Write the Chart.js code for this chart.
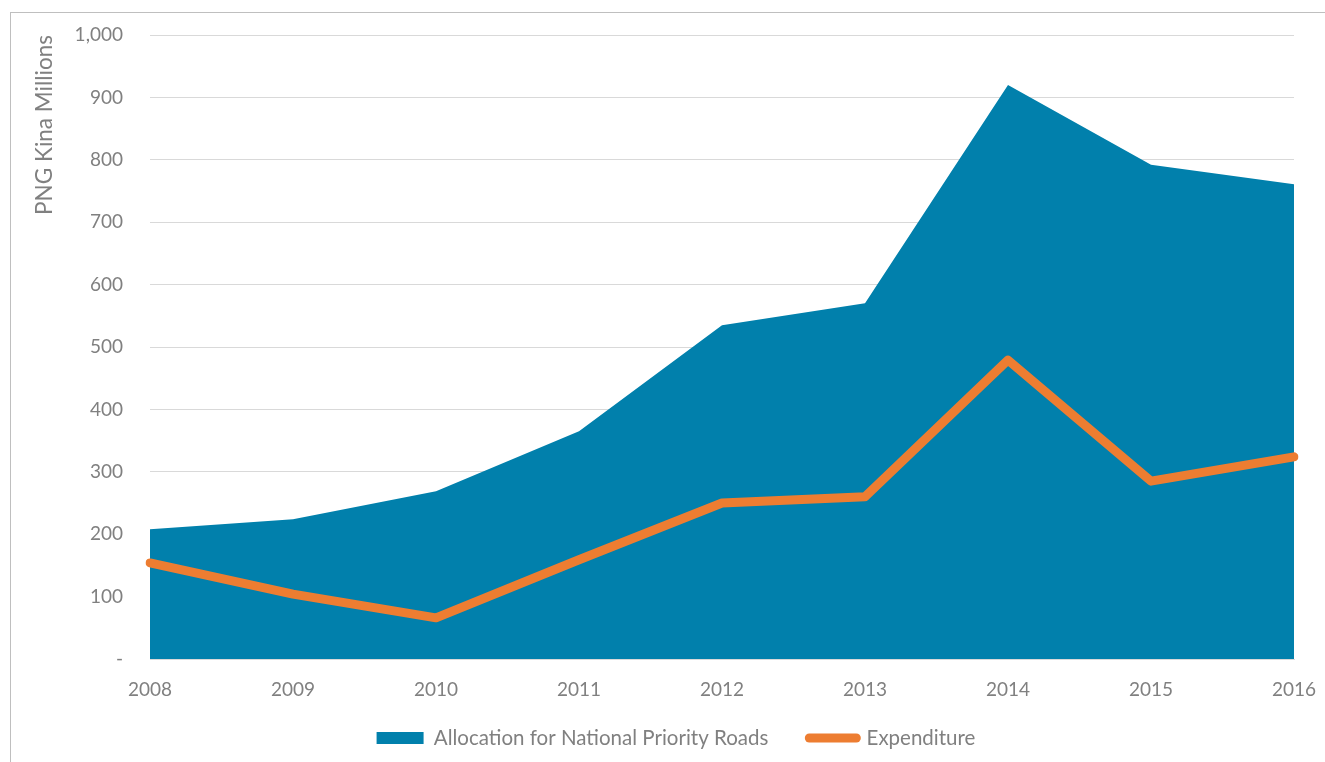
<!DOCTYPE html>
<html>
<head>
<meta charset="utf-8">
<script src="https://cdn.jsdelivr.net/npm/chart.js@4"></script>
<style>
  html, body { margin: 0; padding: 0; background: #fff; }
  #wrap { position: relative; width: 1325px; height: 762px; }
  #frame { position: absolute; left: 10px; top: 12px; width: 1330px; height: 760px; border: 1px solid #bfbfbf; }
  canvas { position: absolute; left: 0; top: 0; }
</style>
</head>
<body>
<div id="wrap">
  <div id="frame"></div>
  <canvas id="roadsChart" width="1325" height="762"></canvas>
</div>
<script>
// Data
const years = ['2008', '2009', '2010', '2011', '2012', '2013', '2014', '2015', '2016'];
const allocation = [208, 224, 269, 365, 535, 570, 920, 792, 761];
const expenditure = [154, 104, 66, 159, 250, 260, 479, 285, 324];

const grey = '#808080';
const font = 'Lato, "Open Sans", sans-serif';

// nudge the legend so it sits centred under the plot like the original
const legendShift = {
  id: 'legendShift',
  afterLayout(chart) {
    const lg = chart.legend;
    lg.left += 29;
    lg.right += 29;
    // grow upwards (legend clips to its own box)
    lg.top -= 22;
    lg.height += 22;
  },
};

const ctx = document.getElementById('roadsChart').getContext('2d');
const roadsChart = new Chart(ctx, {
  type: 'line',
  data: {
    labels: years,
    datasets: [{
      label: 'Allocation for National Priority Roads',
      data: allocation,
      fill: 'origin',
      backgroundColor: '#0180AC',
      borderColor: '#0180AC',
      borderWidth: 0,
      pointRadius: 0,
      tension: 0,
      order: 2,
    }, {
      label: 'Expenditure',
      data: expenditure,
      fill: false,
      backgroundColor: '#ED7D31',
      borderColor: '#ED7D31',
      borderWidth: 9,
      borderJoinStyle: 'round',
      borderCapStyle: 'round',
      pointRadius: 0,
      tension: 0,
      order: 1,
    }],
  },
  plugins: [legendShift],
  options: {
    responsive: false,
    animation: false,
    layout: {
      padding: { left: 0, right: 31, top: 35, bottom: 0 },
    },
    plugins: {
      tooltip: { enabled: false },
      legend: {
        position: 'bottom',
        maxHeight: 53.2,
        labels: {
          color: grey,
          font: { family: font, size: 20.5 },
          usePointStyle: true,
          pointStyleWidth: 47,
          boxHeight: 12,
          padding: 41,
          sort: (a, b) => a.datasetIndex - b.datasetIndex,
          generateLabels: (chart) => {
            const items = Chart.defaults.plugins.legend.labels.generateLabels(chart);
            items.forEach(item => {
              if (item.datasetIndex === 0) {
                item.pointStyle = 'rect';
                item.lineWidth = 0;
              } else {
                item.pointStyle = 'line';
                item.lineWidth = 9;
                item.lineCap = 'round';
              }
            });
            return items;
          },
        },
      },
    },
    scales: {
      x: {
        offset: false,
        grid: { display: false, drawTicks: true, tickLength: 11 },
        border: { display: true, color: '#d9d9d9' },
        ticks: {
          color: grey,
          font: { family: font, size: 19 },
          padding: 8,
          maxRotation: 0,
        },
      },
      y: {
        min: 0,
        max: 1000,
        grid: { color: '#d9d9d9', drawTicks: true, tickLength: 19, tickColor: 'transparent' },
        border: { display: false },
        ticks: {
          stepSize: 100,
          color: grey,
          font: { family: font, size: 19 },
          padding: 8,
          callback: (v) => v === 0 ? '-' : v.toLocaleString('en-US'),
        },
        title: {
          display: true,
          text: 'PNG Kina Millions',
          align: 'end',
          color: grey,
          font: { family: font, size: 22.5 },
          padding: { top: 31.5, bottom: 0 },
        },
        afterFit: (scale) => { scale.width = 150; },
      },
    },
  },
});
</script>
</body>
</html>
